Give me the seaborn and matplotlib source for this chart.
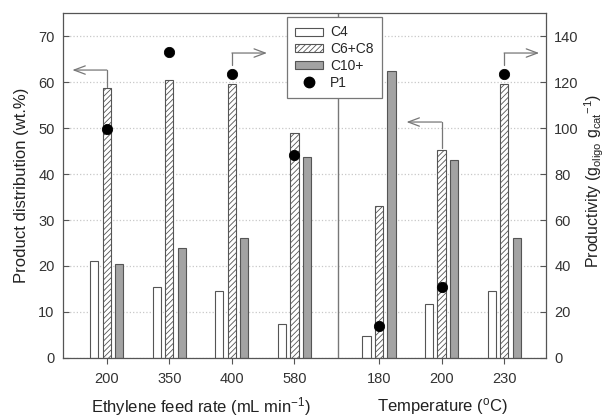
import numpy as np
import pandas as pd
import matplotlib
matplotlib.use("Agg")
import matplotlib.pyplot as plt
from matplotlib.patches import Patch
from matplotlib.lines import Line2D
import seaborn as sns

# data
feed_labels = ['200', '350', '400', '580']
temp_labels = ['180', '200', '230']
c4 = [21.0, 15.5, 14.5, 7.3, 4.7, 11.8, 14.6]
c6c8 = [58.7, 60.5, 59.5, 49.0, 33.0, 45.3, 59.6]
c10 = [20.5, 24.0, 26.0, 43.8, 62.3, 43.0, 26.0]
p1 = [99.5, 133.0, 123.5, 88.3, 14.0, 31.0, 123.5]

edge = '#555555'
grey = '#a3a3a3'

sns.set_style('ticks')
plt.rcParams['font.family'] = ['Liberation Sans', 'DejaVu Sans']
plt.rcParams['mathtext.fontset'] = 'custom'
plt.rcParams['mathtext.rm'] = 'Liberation Sans'
plt.rcParams['mathtext.it'] = 'Liberation Sans:italic'
plt.rcParams['hatch.color'] = edge
plt.rcParams['hatch.linewidth'] = 0.6

# group positions, second block shifted right
pos = np.r_[np.arange(4), np.arange(3) + 4.35]
labels = feed_labels + temp_labels
names = ['C4', 'C6+C8', 'C10+']

df = pd.DataFrame({
    'pos': np.tile(pos, 3),
    'value': c4 + c6c8 + c10,
    'type': np.repeat(names, len(pos)),
})

fig = plt.figure(figsize=(6.09, 4.17), dpi=100)
ax = fig.add_axes([0.1034, 0.1415, 0.7932, 0.8273])
ax.yaxis.grid(True, linestyle=':', color='#c8c8c8', linewidth=0.9)
ax.set_axisbelow(True)

sns.barplot(data=df, x='pos', y='value', hue='type', hue_order=names,
            native_scale=True, width=0.6, gap=0.35, errorbar=None,
            palette={'C4': 'white', 'C6+C8': 'white', 'C10+': grey},
            edgecolor=edge, linewidth=0.8, legend=False, ax=ax)
for bar in ax.containers[1]:
    bar.set_hatch('//////')

ax.set_xlim(-0.7, 7.02)
ax.set_ylim(0, 75)
ax.set_xticks(pos)
ax.set_xticklabels(labels)
ax.set_yticks(range(0, 71, 10))
ax.set_xlabel('')
ax.set_ylabel('Product distribution (wt.%)', fontsize=12, color='#222222', labelpad=7)
ax.tick_params(axis='y', direction='in', length=4, labelsize=10.5, colors='#333333', color=edge, pad=6)
ax.tick_params(axis='x', direction='out', length=4, labelsize=10.5, colors='#333333', color=edge, pad=6)
for s in ax.spines.values():
    s.set_color(edge)
    s.set_linewidth(0.9)

ax.axvline(3.7, color='#777777', linewidth=1)

ax2 = ax.twinx()
sns.scatterplot(x=pos, y=p1, color='black', s=55, edgecolor='black', zorder=5, ax=ax2)
ax2.set_ylim(0, 150)
ax2.set_yticks(range(0, 141, 20))
ax2.tick_params(axis='y', direction='in', length=4, labelsize=10.5, colors='#333333', color=edge, pad=6)
for s in ax2.spines.values():
    s.set_visible(False)
fig.text(0.976, 0.566,
         'Productivity (g$_{\\mathregular{oligo}}$ g$_{\\mathregular{cat}}$$^{\\mathregular{-1}}$)',
         rotation=90, ha='center', va='center', fontsize=11.5, color='#222222')

# arrows pointing at the axis each series belongs to
arrow = dict(arrowstyle='->,head_length=0.8,head_width=0.3', color='#777777', lw=0.9,
             shrinkA=0, shrinkB=0)
line = dict(color='#777777', lw=0.9)
marks = [(0, c6c8[0] + 0.3, 62.6, -0.55),
         (2, p1[2] / 2 + 2.0, 66.3, 2.56),
         (5, c6c8[5] + 0.3, 51.3, 4.79),
         (6, p1[6] / 2 + 2.0, 66.3, 6.91)]
for i, y0, y1, xt in marks:
    ax.plot([pos[i], pos[i]], [y0, y1], **line)
    ax.annotate('', xy=(xt, y1), xytext=(pos[i], y1), arrowprops=arrow)

ax.text(0.285, -0.14, 'Ethylene feed rate (mL min$^{\\mathregular{-1}}$)', transform=ax.transAxes,
        ha='center', va='center', fontsize=12, color='#222222')
ax.text(0.785, -0.14, 'Temperature ($^{\\mathregular{o}}$C)', transform=ax.transAxes,
        ha='center', va='center', fontsize=12, color='#222222')

handles = [Patch(facecolor='white', edgecolor=edge, linewidth=0.8),
           Patch(facecolor='white', edgecolor=edge, hatch='//////', linewidth=0.8),
           Patch(facecolor=grey, edgecolor=edge, linewidth=0.8),
           Line2D([], [], marker='o', color='black', linestyle='none', markersize=7.5)]
leg = ax2.legend(handles, names + ['P1'], loc='upper left', bbox_to_anchor=(0.464, 0.988),
                 frameon=True, fancybox=False, framealpha=1, edgecolor='#777777',
                 fontsize=10, handlelength=2.0, handleheight=0.5, labelspacing=0.2,
                 borderpad=0.6, handletextpad=0.5, borderaxespad=0)
leg.get_frame().set_linewidth(0.9)
leg.set_zorder(10)

fig.savefig('out.png', dpi=100)
